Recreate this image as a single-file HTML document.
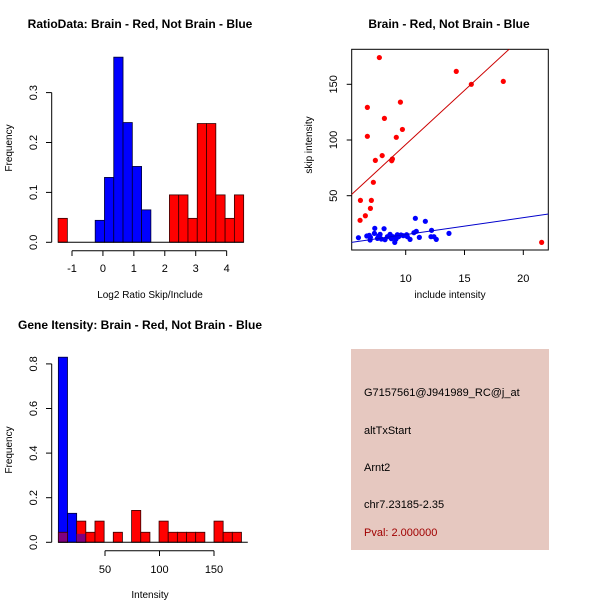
<!DOCTYPE html>
<html><head><meta charset="utf-8"><style>
body{margin:0;background:#fff;}
svg{display:block;font-family:"Liberation Sans",sans-serif;}
</style></head><body>
<svg id="c" width="600" height="600" viewBox="0 0 600 600">
<rect x="351" y="349" width="198" height="201" fill="#e6c8c0"/>
<g font-size="11" fill="#000">
<text x="364" y="396">G7157561@J941989_RC@j_at</text>
<text x="364" y="434">altTxStart</text>
<text x="364" y="471">Arnt2</text>
<text x="364" y="508">chr7.23185-2.35</text>
<text x="364" y="536" fill="#a00000">Pval: 2.000000</text>
</g>
</svg>
<script>
// ---- Ratio histogram data ----
const ratioBreakStart = -1.45;
const ratioBinWidth = 0.3;
const ratioRedCounts = [0.048,0,0,0,0,0,0,0,0,0,0,0,0.095,0.095,0.048,0.238,0.238,0.095,0.048,0.095];
const ratioBlueCounts = [0,0,0,0,0.044,0.13,0.371,0.24,0.152,0.065,0,0,0,0,0,0,0,0,0,0];
const ratioXTicks = [-1,0,1,2,3,4];
const ratioYTicks = [0.0,0.1,0.2,0.3];
// ---- Scatter data ----
const redX = [7.76,6.15,7.08,6.12,6.57,7.0,7.25,7.42,8.0,8.19,6.74,6.74,8.81,8.87,9.2,9.55,9.72,14.3,15.58,18.3,21.56];
const redY = [174,45.8,45.8,27.9,32,38.6,62,81.7,86,119.4,129.3,103.3,81.4,83,102.4,134,109.5,161.6,150,152.6,8.1];
const blueX = [5.98,6.9,7.0,6.97,7.34,7.37,7.6,7.82,7.93,8.16,8.24,8.44,8.67,8.78,8.92,9.07,9.18,9.29,9.4,9.6,9.8,10.08,10.14,10.37,10.7,10.82,10.9,11.16,11.67,12.15,12.2,12.4,12.6,13.68,6.69,7.7];
const blueY = [12.3,14.4,12.6,10.2,16.2,20.7,11.7,15.3,11.1,20.4,10.5,13.2,15.3,11.4,13.2,8.1,11.1,15,13.2,14.7,14.1,15,13.2,10.8,16.8,29.7,18,12.6,27,13.2,18.9,13.2,10.8,16.2,13.8,13.8];
const redFit = [-1.4, 9.73];
const blueFit = [-0.12, 1.52];
const scatterXTicks = [10,15,20];
const scatterYTicks = [50,100,150];
// ---- Intensity histogram data ----
const intBreakStart = 7.2;
const intBinWidth = 8.4;
const intRedCounts = [0.045,0,0.095,0.045,0.095,0,0.045,0,0.143,0.045,0,0.095,0.045,0.045,0.045,0.045,0,0.095,0.045,0.045];
const intBlueCounts = [0.83,0.13,0.038,0,0,0,0,0,0,0,0,0,0,0,0,0,0,0,0,0];
const intXTicks = [50,100,150];
const intYTicks = [0.0,0.2,0.4,0.6,0.8];

const NS='http://www.w3.org/2000/svg';
const svg=document.getElementById('c');
function mk(tag,attrs,parent){const e=document.createElementNS(NS,tag);for(const k in attrs)e.setAttribute(k,attrs[k]);(parent||svg).appendChild(e);return e;}
function txt(s,x,y,attrs){const e=mk('text',Object.assign({x:x,y:y,'text-anchor':'middle','font-size':11},attrs||{}));e.textContent=s;return e;}
function rtxt(s,x,y,size){const e=mk('text',{x:0,y:0,'text-anchor':'middle','font-size':size||11,transform:'translate('+x+','+y+') rotate(-90)'});e.textContent=s;return e;}

// ===== Panel 1 =====
{
const X=v=>72+(v+1)*30.93, Y=v=>242.3-v*499;
ratioRedCounts.forEach((c,i)=>{ if(c<=0) return;
 const r=mk('rect',{x:X(ratioBreakStart+i*ratioBinWidth),y:Y(c),width:ratioBinWidth*30.93,height:Y(0)-Y(c),fill:'#ff0000',stroke:'#300','stroke-width':0.8});
 
 });
ratioBlueCounts.forEach((c,i)=>{ if(c<=0) return;
 const r=mk('rect',{x:X(ratioBreakStart+i*ratioBinWidth),y:Y(c),width:ratioBinWidth*30.93,height:Y(0)-Y(c),fill:'#0000ff',stroke:'#003','stroke-width':0.8});
 
 });
mk('line',{x1:X(-1.45),x2:X(4.55),y1:Y(0),y2:Y(0),stroke:'#000'});
const xa=mk('line',{x1:X(-1),x2:X(4),y1:250.7,y2:250.7,stroke:'#000'});


ratioXTicks.forEach(t=>{mk('line',{x1:X(t),x2:X(t),y1:250.7,y2:256,stroke:'#000'});txt(String(t),X(t),272);});
const ya=mk('line',{x1:51.7,x2:51.7,y1:Y(0),y2:Y(0.3),stroke:'#000'});


ratioYTicks.forEach(t=>{mk('line',{x1:46,x2:51.7,y1:Y(t),y2:Y(t),stroke:'#000'});rtxt(t.toFixed(1),37,Y(t));});
txt('Log2 Ratio Skip/Include',150,298,{'font-size':10});
rtxt('Frequency',12,148,10);
txt('RatioData: Brain - Red, Not Brain - Blue',140,28,{'font-size':12,'font-weight':'bold'});
}
// ===== Panel 2 =====
{
const X=v=>405.7+(v-10)*11.76, Y=v=>195.7-(v-50)*1.114;
const x0=351.7,x1=548.3,y0=49.3,y1=250;
const clip=mk('clipPath',{id:'sc'});mk('rect',{x:x0,y:y0,width:x1-x0,height:y1-y0},clip);
const fr=mk('rect',{x:x0,y:y0,width:x1-x0,height:y1-y0,fill:'none',stroke:'#000'});


redX.forEach((x,i)=>{const p=mk('circle',{cx:X(x),cy:Y(redY[i]),r:2.6,fill:'#ff0000'});
 
 });
blueX.forEach((x,i)=>{const p=mk('circle',{cx:X(x),cy:Y(blueY[i]),r:2.6,fill:'#0000ff'});
 
 });
const xa=4,xb=24;
const rl=mk('line',{x1:X(xa),y1:Y(redFit[0]+redFit[1]*xa),x2:X(xb),y2:Y(redFit[0]+redFit[1]*xb),stroke:'#cc0000','clip-path':'url(#sc)'});


const bl=mk('line',{x1:X(xa),y1:Y(blueFit[0]+blueFit[1]*xa),x2:X(xb),y2:Y(blueFit[0]+blueFit[1]*xb),stroke:'#0000cc','clip-path':'url(#sc)'});


scatterXTicks.forEach(t=>{mk('line',{x1:X(t),x2:X(t),y1:y1,y2:y1+5,stroke:'#000'});txt(String(t),X(t),282);});
scatterYTicks.forEach(t=>{mk('line',{x1:x0-5,x2:x0,y1:Y(t),y2:Y(t),stroke:'#000'});rtxt(String(t),337,Y(t));});
txt('include intensity',450,298,{'font-size':10});
rtxt('skip intensity',312,145,10);
txt('Brain - Red, Not Brain - Blue',449,28,{'font-size':12,'font-weight':'bold'});
}
// ===== Panel 3 =====
{
const X=v=>105+(v-50)*1.09, Y=v=>542.3-v*223;
const w=intBinWidth*1.09;
intBlueCounts.forEach((c,i)=>{ if(c<=0) return;
 const r=mk('rect',{x:X(intBreakStart+i*intBinWidth),y:Y(c),width:w,height:Y(0)-Y(c),fill:'#0000ff',stroke:'#003','stroke-width':0.8});
 
 });
intRedCounts.forEach((c,i)=>{ if(c<=0) return;
 const b=intBlueCounts[i];
 const r=mk('rect',{x:X(intBreakStart+i*intBinWidth),y:Y(c),width:w,height:Y(0)-Y(c),fill:b>=c?'#800080':'#ff0000',stroke:'#300','stroke-width':0.8});
 
 
 if(b>0&&b<c){const o=mk('rect',{x:X(intBreakStart+i*intBinWidth),y:Y(b),width:w,height:Y(0)-Y(b),fill:'#800080',stroke:'none'});
  
  }
});
mk('line',{x1:X(7.2),x2:X(181),y1:Y(0),y2:Y(0),stroke:'#000'});
const xa=mk('line',{x1:X(50),x2:X(150),y1:550.7,y2:550.7,stroke:'#000'});


intXTicks.forEach(t=>{mk('line',{x1:X(t),x2:X(t),y1:550.7,y2:556,stroke:'#000'});txt(String(t),X(t),573);});
const ya=mk('line',{x1:51.7,x2:51.7,y1:Y(0),y2:Y(0.8),stroke:'#000'});


intYTicks.forEach(t=>{mk('line',{x1:46,x2:51.7,y1:Y(t),y2:Y(t),stroke:'#000'});rtxt(t.toFixed(1),37,Y(t));});
txt('Intensity',150,598,{'font-size':10});
rtxt('Frequency',12,450,10);
txt('Gene Itensity: Brain - Red, Not Brain - Blue',140,329,{'font-size':12,'font-weight':'bold'});
}
</script>
</body></html>
